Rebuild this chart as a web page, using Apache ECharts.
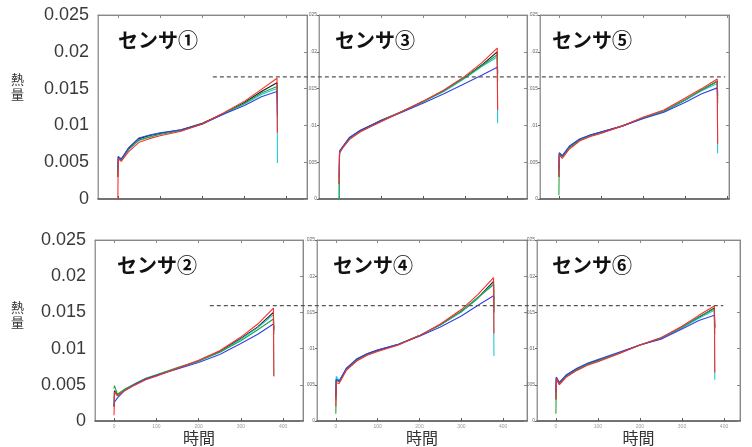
<!DOCTYPE html>
<html>
<head>
<meta charset="utf-8">
<script src="https://cdn.jsdelivr.net/npm/echarts@6/dist/echarts.min.js"></script>
<style>
html,body{margin:0;padding:0;background:#fff;}
#c{width:752px;height:447px;}
</style>
</head>
<body>
<div id="c"></div>
<script>
// ---- data ----
const TIME = [0, 1, 8, 25, 50, 75, 100, 150, 200, 250, 300, 340, 377, 378];
const X_TICKS = [0, 100, 200, 300, 400];
const SENSOR_NAMES = ['センサ①', 'センサ②', 'センサ③', 'センサ④', 'センサ⑤', 'センサ⑥'];
const RUN_NAMES = ['run1', 'run2', 'run3', 'run4', 'run5'];
const Y_NAME = ['熱', '量'];
const X_NAME = '時間';
const REF_TOP = 0.01658;
const REF_BOTTOM = 0.01607;

const s1Black = [0.003, 0.0057, 0.0054, 0.0069, 0.0082, 0.0086, 0.0089, 0.0094, 0.0103, 0.0116, 0.0131, 0.0146, 0.0158, 0.0135];
const s1Cyan  = [0.004, 0.0055, 0.0052, 0.0067, 0.0080, 0.0085, 0.0088, 0.0093, 0.0102, 0.0115, 0.0129, 0.0142, 0.0150, 0.0049];
const s1Green = [0.0035, 0.0056, 0.0053, 0.0067, 0.0080, 0.0084, 0.0088, 0.0093, 0.0102, 0.0116, 0.0130, 0.0144, 0.0153, 0.0130];
const s1Blue  = [0.004, 0.0058, 0.0054, 0.0069, 0.0083, 0.0087, 0.0090, 0.0094, 0.0102, 0.0115, 0.0127, 0.0139, 0.0146, 0.0112];
const s1Red   = [0.0, 0.0055, 0.0051, 0.0064, 0.0077, 0.0082, 0.0086, 0.0092, 0.0102, 0.0117, 0.0133, 0.0149, 0.0164, 0.0090];

const s2Black = [0.002, 0.0042, 0.0036, 0.0043, 0.0051, 0.0058, 0.0063, 0.0073, 0.0083, 0.0096, 0.0114, 0.0130, 0.0150, 0.0125];
const s2Cyan  = [0.002, 0.0040, 0.0035, 0.0043, 0.0051, 0.0058, 0.0063, 0.0073, 0.0083, 0.0095, 0.0113, 0.0129, 0.0147, 0.0062];
const s2Green = [0.0045, 0.0049, 0.0037, 0.0044, 0.0052, 0.0059, 0.0064, 0.0074, 0.0083, 0.0095, 0.0111, 0.0126, 0.0141, 0.0120];
const s2Blue  = [0.002, 0.0026, 0.0032, 0.0042, 0.0051, 0.0058, 0.0063, 0.0072, 0.0081, 0.0092, 0.0107, 0.0120, 0.0134, 0.0128];
const s2Red   = [0.0008, 0.0040, 0.0035, 0.0042, 0.0050, 0.0057, 0.0062, 0.0073, 0.0084, 0.0097, 0.0116, 0.0134, 0.0156, 0.0062];

const s3Black = [0.002, 0.0064, 0.0070, 0.0083, 0.0093, 0.0100, 0.0107, 0.0119, 0.0132, 0.0147, 0.0165, 0.0182, 0.0200, 0.0170];
const s3Cyan  = [0.0, 0.0062, 0.0069, 0.0082, 0.0092, 0.0099, 0.0106, 0.0119, 0.0132, 0.0146, 0.0164, 0.0180, 0.0193, 0.0103];
const s3Green = [0.0, 0.0063, 0.0070, 0.0082, 0.0092, 0.0099, 0.0106, 0.0119, 0.0132, 0.0147, 0.0165, 0.0181, 0.0196, 0.0160];
const s3Blue  = [0.003, 0.0065, 0.0071, 0.0084, 0.0093, 0.0100, 0.0106, 0.0118, 0.0130, 0.0143, 0.0157, 0.0168, 0.0179, 0.0172];
const s3Red   = [0.002, 0.0063, 0.0069, 0.0081, 0.0091, 0.0098, 0.0105, 0.0119, 0.0133, 0.0148, 0.0167, 0.0185, 0.0205, 0.0121];

const s4Black = [0.003, 0.0057, 0.0055, 0.0072, 0.0085, 0.0093, 0.0098, 0.0106, 0.0118, 0.0133, 0.0151, 0.0170, 0.0193, 0.0150];
const s4Cyan  = [0.004, 0.0062, 0.0056, 0.0071, 0.0084, 0.0092, 0.0097, 0.0106, 0.0118, 0.0133, 0.0151, 0.0170, 0.0190, 0.0090];
const s4Green = [0.001, 0.0057, 0.0054, 0.0071, 0.0084, 0.0092, 0.0097, 0.0106, 0.0118, 0.0133, 0.0152, 0.0171, 0.0188, 0.0158];
const s4Blue  = [0.0035, 0.0058, 0.0055, 0.0073, 0.0086, 0.0093, 0.0098, 0.0106, 0.0117, 0.0130, 0.0145, 0.0160, 0.0173, 0.0168];
const s4Red   = [0.002, 0.0053, 0.0052, 0.0070, 0.0083, 0.0091, 0.0096, 0.0105, 0.0118, 0.0134, 0.0154, 0.0175, 0.0198, 0.0121];

const s5Black = [0.003, 0.0062, 0.0058, 0.0071, 0.0081, 0.0087, 0.0091, 0.0099, 0.0110, 0.0119, 0.0134, 0.0148, 0.0160, 0.0140];
const s5Cyan  = [0.003, 0.0061, 0.0057, 0.0070, 0.0080, 0.0086, 0.0090, 0.0099, 0.0110, 0.0119, 0.0134, 0.0147, 0.0157, 0.0062];
const s5Green = [0.0005, 0.0060, 0.0057, 0.0070, 0.0080, 0.0086, 0.0090, 0.0099, 0.0110, 0.0120, 0.0135, 0.0148, 0.0160, 0.0135];
const s5Blue  = [0.004, 0.0063, 0.0059, 0.0072, 0.0082, 0.0087, 0.0091, 0.0099, 0.0109, 0.0118, 0.0131, 0.0143, 0.0151, 0.0130];
const s5Red   = [0.003, 0.0060, 0.0055, 0.0068, 0.0079, 0.0085, 0.0089, 0.0099, 0.0111, 0.0121, 0.0137, 0.0150, 0.0163, 0.0075];

const s6Black = [0.003, 0.0060, 0.0053, 0.0063, 0.0072, 0.0079, 0.0084, 0.0094, 0.0105, 0.0114, 0.0129, 0.0143, 0.0156, 0.0130];
const s6Cyan  = [0.003, 0.0059, 0.0052, 0.0062, 0.0071, 0.0078, 0.0083, 0.0094, 0.0105, 0.0114, 0.0129, 0.0142, 0.0153, 0.0057];
const s6Green = [0.001, 0.0058, 0.0051, 0.0062, 0.0071, 0.0078, 0.0083, 0.0094, 0.0105, 0.0115, 0.0130, 0.0144, 0.0155, 0.0120];
const s6Blue  = [0.004, 0.0061, 0.0053, 0.0064, 0.0073, 0.0080, 0.0085, 0.0095, 0.0105, 0.0113, 0.0127, 0.0139, 0.0146, 0.0128];
const s6Red   = [0.003, 0.0059, 0.0050, 0.0061, 0.0070, 0.0077, 0.0082, 0.0093, 0.0105, 0.0115, 0.0131, 0.0146, 0.0159, 0.0067];

const SENSOR_DATA = [
  [s1Black, s1Cyan, s1Green, s1Blue, s1Red],
  [s2Black, s2Cyan, s2Green, s2Blue, s2Red],
  [s3Black, s3Cyan, s3Green, s3Blue, s3Red],
  [s4Black, s4Cyan, s4Green, s4Blue, s4Red],
  [s5Black, s5Cyan, s5Green, s5Blue, s5Red],
  [s6Black, s6Cyan, s6Green, s6Blue, s6Red]
];

// ---- layout / style ----
const COLORS = ['#1a1a1a', '#1ec8d2', '#23a23f', '#3242e0', '#ff2b2b'];
const PANELS = [
  {left: 98,  top: 15,  width: 209, height: 184, xMin: -47, xMax: 448, title: [118, 30], bigY: true,  bottom: false},
  {left: 95,  top: 240, width: 208, height: 184, xMin: -45, xMax: 447, title: [117, 255], bigY: true,  bottom: true},
  {left: 319, top: 15,  width: 208, height: 184, xMin: -48, xMax: 448, title: [335, 30], bigY: false, bottom: false},
  {left: 317, top: 240, width: 210, height: 184, xMin: -45, xMax: 457, title: [333, 255], bigY: false, bottom: true},
  {left: 540, top: 15,  width: 189, height: 184, xMin: -45, xMax: 405, title: [552, 30], bigY: false, bottom: false},
  {left: 537, top: 240, width: 203, height: 184, xMin: -45, xMax: 438, title: [552, 255], bigY: false, bottom: true}
];

const grid = [], xAxis = [], yAxis = [], series = [], title = [];
PANELS.forEach((p, i) => {
  grid.push({left: p.left, top: p.top, width: p.width, height: p.height,
    show: true, borderColor: '#9a9a9a', borderWidth: 1, backgroundColor: '#fff'});
  xAxis.push({
    type: 'value', gridIndex: i, min: p.xMin, max: p.xMax, position: 'bottom',
    axisLine: {show: true, onZero: false, lineStyle: {color: '#555', width: 1.5}},
    axisTick: {show: true, inside: true, length: 3, customValues: X_TICKS, lineStyle: {color: '#555'}},
    axisLabel: {show: p.bottom, customValues: X_TICKS, fontSize: 5, color: '#999', margin: 3},
    splitLine: {show: false},
    name: p.bottom ? X_NAME : '', nameLocation: 'middle', nameGap: 7,
    nameTextStyle: {fontSize: 16, color: '#333', fontFamily: 'Noto Sans CJK JP'}
  });
  xAxis.push({
    type: 'value', gridIndex: i, min: p.xMin, max: p.xMax, position: 'top',
    axisLine: {show: true, onZero: false, lineStyle: {color: '#888', width: 1}},
    axisTick: {show: true, inside: true, length: 3, customValues: X_TICKS, lineStyle: {color: '#888'}},
    axisLabel: {show: false}, splitLine: {show: false}
  });
  yAxis.push({
    type: 'value', gridIndex: i, min: 0, max: 0.025, interval: 0.005, position: 'left',
    axisLine: {show: true, onZero: false, lineStyle: {color: '#999', width: 1}},
    axisTick: {show: !p.bigY, inside: false, length: 2, lineStyle: {color: '#666'}},
    axisLabel: p.bigY
      ? {show: true, fontSize: 18, color: '#3a3a3a', margin: 9, fontFamily: 'Liberation Sans',
         formatter: v => String(+v.toFixed(3))}
      : {show: true, fontSize: 5, color: '#666', margin: 2,
         formatter: v => v === 0 ? '0' : String(+v.toFixed(3)).replace(/^0/, '')},
    splitLine: {show: false}
  });
  yAxis.push({
    type: 'value', gridIndex: i, min: 0, max: 0.025, interval: 0.005, position: 'right',
    axisLine: {show: true, onZero: false, lineStyle: {color: '#888', width: 1}},
    axisTick: {show: true, inside: true, length: 3, lineStyle: {color: '#888'}},
    axisLabel: {show: false}, splitLine: {show: false}
  });
  SENSOR_DATA[i].forEach((vals, k) => {
    series.push({
      type: 'line', name: SENSOR_NAMES[i] + ' ' + RUN_NAMES[k],
      xAxisIndex: i * 2, yAxisIndex: i * 2,
      data: TIME.map((t, j) => [t, vals[j]]),
      showSymbol: false, symbol: 'none', smooth: false,
      lineStyle: {color: COLORS[k], width: 1.1}, z: 3 + k
    });
  });
  title.push({
    text: SENSOR_NAMES[i], left: p.title[0], top: p.title[1], padding: 0,
    textStyle: {fontSize: 20, fontWeight: 'bold', color: '#111', fontFamily: 'Noto Sans CJK JP'}
  });
});

const OVERLAYS = [
  {left: 98, top: 15, width: 631, height: 184, from: 0.182, to: 0.994, y: REF_TOP},
  {left: 95, top: 240, width: 645, height: 184, from: 0.178, to: 0.974, y: REF_BOTTOM}
];
OVERLAYS.forEach(o => {
  const gi = grid.length;
  grid.push({left: o.left, top: o.top, width: o.width, height: o.height, show: false});
  xAxis.push({type: 'value', gridIndex: gi, min: 0, max: 1, show: false});
  yAxis.push({type: 'value', gridIndex: gi, min: 0, max: 0.025, show: false});
  series.push({
    type: 'line', xAxisIndex: xAxis.length - 1, yAxisIndex: yAxis.length - 1,
    data: [[o.from, o.y], [o.to, o.y]], showSymbol: false, symbol: 'none',
    lineStyle: {color: '#555', width: 1.2, type: [4, 3]}, z: 10, silent: true
  });
});

const yNameStyle = ch => ({text: ch, fontSize: 13, fill: '#333', fontFamily: 'Noto Sans CJK JP'});
const chart = echarts.init(document.getElementById('c'), null, {renderer: 'canvas'});
chart.setOption({
  animation: false,
  backgroundColor: '#fff',
  grid, xAxis, yAxis, series, title,
  graphic: [
    {type: 'text', left: 11, top: 73, style: yNameStyle(Y_NAME[0])},
    {type: 'text', left: 11, top: 88, style: yNameStyle(Y_NAME[1])},
    {type: 'text', left: 11, top: 301, style: yNameStyle(Y_NAME[0])},
    {type: 'text', left: 11, top: 316, style: yNameStyle(Y_NAME[1])}
  ]
});
</script>
</body>
</html>
